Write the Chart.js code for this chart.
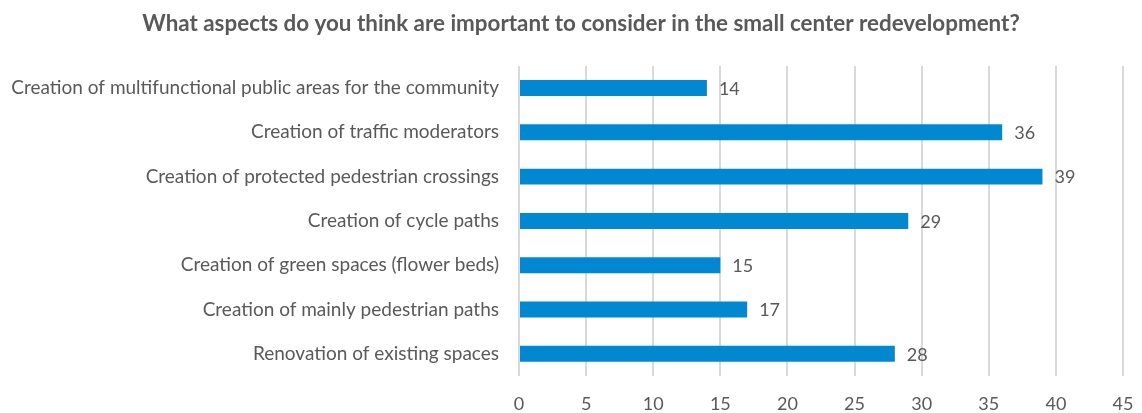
<!DOCTYPE html>
<html>
<head>
<meta charset="utf-8">
<script src="https://cdn.jsdelivr.net/npm/chart.js@4"></script>
<style>
  html, body { margin: 0; padding: 0; background: #fff; }
  #wrap { width: 1142px; height: 413px; position: relative; }
</style>
</head>
<body>
<div id="wrap"><canvas id="chart"></canvas></div>
<script>
  // Survey answers
  const categories = [
    'Creation of multifunctional public areas for the community',
    'Creation of traffic moderators',
    'Creation of protected pedestrian crossings',
    'Creation of cycle paths',
    'Creation of green spaces (flower beds)',
    'Creation of mainly pedestrian paths',
    'Renovation of existing spaces'
  ];
  const answerCounts = [14, 36, 39, 29, 15, 17, 28];
  const xTicks = [0, 5, 10, 15, 20, 25, 30, 35, 40, 45];

  const textColor = '#595959';
  const fontFamily = 'Lato, "Liberation Sans", sans-serif';

  // draws the value to the right of each bar
  const valueLabels = {
    id: 'valueLabels',
    afterDatasetsDraw(chart) {
      const ctx = chart.ctx;
      const meta = chart.getDatasetMeta(0);
      ctx.save();
      ctx.fillStyle = textColor;
      ctx.font = '18px ' + fontFamily;
      ctx.textBaseline = 'middle';
      ctx.textAlign = 'left';
      meta.data.forEach(function (bar, i) {
        ctx.fillText(String(answerCounts[i]), bar.x + 12, bar.y + 1);
      });
      ctx.restore();
    }
  };

  // the original title sits a bit right of the canvas centre
  const shiftTitle = {
    id: 'shiftTitle',
    afterLayout(chart) {
      if (chart.titleBlock) chart.titleBlock.left += 20;
    }
  };

  new Chart(document.getElementById('chart'), {
    type: 'bar',
    data: {
      labels: categories,
      datasets: [{
        data: answerCounts,
        backgroundColor: '#0288d1',
        borderWidth: 0,
        barPercentage: 0.72,
        categoryPercentage: 0.5
      }]
    },
    options: {
      indexAxis: 'y',
      responsive: true,
      maintainAspectRatio: false,
      animation: false,
      layout: { padding: 0 },
      plugins: {
        legend: { display: false },
        tooltip: { enabled: false },
        title: {
          display: true,
          text: 'What aspects do you think are important to consider in the small center redevelopment?',
          color: textColor,
          font: { family: fontFamily, size: 22.4, weight: 'bold' },
          padding: { top: 10, bottom: 29 }
        }
      },
      scales: {
        x: {
          min: 0,
          max: 45,
          afterBuildTicks: function (scale) {
            scale.ticks = xTicks.map(v => ({ value: v }));
          },
          afterFit: function (scale) {
            scale.height = 37;
            scale.paddingRight = 19;
          },
          grid: { color: '#d9d9d9', lineWidth: 2, drawTicks: false },
          border: { display: false },
          ticks: {
            color: textColor,
            padding: 17,
            font: { family: fontFamily, size: 18 }
          }
        },
        y: {
          afterFit: function (scale) { scale.width = 519; },
          grid: { display: false, drawTicks: false },
          border: { display: false },
          ticks: {
            color: textColor,
            padding: 20,
            font: { family: fontFamily, size: 19 }
          }
        }
      }
    },
    plugins: [valueLabels, shiftTitle]
  });
</script>
</body>
</html>
